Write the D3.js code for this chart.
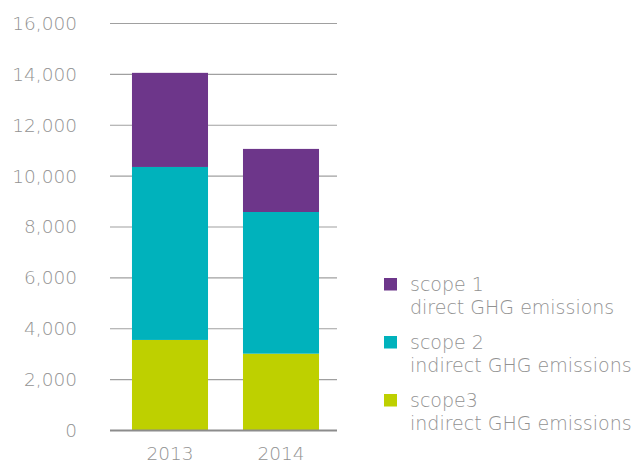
<!DOCTYPE html>
<html>
<head>
<meta charset="utf-8">
<script src="https://cdn.jsdelivr.net/npm/d3@7"></script>
<style>
  body { margin: 0; background: #fff; }
  text { font-family: "DejaVu Sans", sans-serif; font-weight: 200; fill: #929292; }
</style>
</head>
<body>
<div id="chart"></div>
<script>
var years = ["2013", "2014"];
var scope3 = [3560, 3020];
var scope2 = [6800, 5570];
var scope1 = [3700, 2480];
var yTicks = [0, 2000, 4000, 6000, 8000, 10000, 12000, 14000, 16000];

var seriesNames = ["scope3", "scope2", "scope1"];
var colors = {scope1: "#6d368a", scope2: "#00b2bc", scope3: "#bed000"};
var legendItems = [
    {key: "scope1", line1: "scope 1", line2: "direct GHG emissions"},
    {key: "scope2", line1: "scope 2", line2: "indirect GHG emissions"},
    {key: "scope3", line1: "scope3", line2: "indirect GHG emissions"}
];

var width = 638, height = 465;
var margin = {top: 23.5, right: 301, bottom: 34.5, left: 110};
var innerW = width - margin.left - margin.right;
var innerH = height - margin.top - margin.bottom;

var svg = d3.select("#chart").append("svg")
    .attr("width", width)
    .attr("height", height);
var g = svg.append("g")
    .attr("transform", "translate(" + margin.left + "," + margin.top + ")");

// build table for stack
var table = years.map(function(y, i){
    return {year: y, scope1: scope1[i], scope2: scope2[i], scope3: scope3[i]};
});
var stacked = d3.stack().keys(seriesNames)(table);

var x = d3.scaleBand().domain(years).range([0, innerW])
    .paddingInner(0.315).paddingOuter(0.18).align(0.55);
var y = d3.scaleLinear().domain([0, 16000]).range([innerH, 0]);

// gridlines
g.selectAll(".grid")
    .data(yTicks.filter(function(d){ return d > 0; }))
    .enter().append("line")
    .attr("x1", 0).attr("x2", innerW)
    .attr("y1", function(d){ return y(d); })
    .attr("y2", function(d){ return y(d); })
    .attr("stroke", "#a0a0a0")
    .attr("stroke-width", 1.2);

// bars
g.selectAll(".series")
    .data(stacked)
    .enter().append("g")
    .attr("fill", function(d){ return colors[d.key]; })
    .selectAll("rect")
    .data(function(d){ return d; })
    .enter().append("rect")
    .attr("x", function(d){ return x(d.data.year); })
    .attr("width", x.bandwidth())
    .attr("y", function(d){ return y(d[1]); })
    .attr("height", function(d){ return y(d[0]) - y(d[1]); });

// baseline
g.append("line")
    .attr("x1", 0).attr("x2", innerW)
    .attr("y1", y(0)).attr("y2", y(0))
    .attr("stroke", "#8c8c8c")
    .attr("stroke-width", 2);

// y axis labels
var yAxis = d3.axisLeft(y).tickValues(yTicks).tickSize(0).tickPadding(33)
    .tickFormat(d3.format(","));
g.append("g").call(yAxis)
    .call(function(a){ a.select(".domain").remove(); })
    .selectAll("text")
    .style("font-size", "18.5px")
    .style("font-family", "'DejaVu Sans', sans-serif")
    .attr("fill", "#929292");

// x axis labels
var xAxis = d3.axisBottom(x).tickSize(0).tickPadding(16);
g.append("g").attr("transform", "translate(0," + innerH + ")").call(xAxis)
    .call(function(a){ a.select(".domain").remove(); })
    .selectAll("text")
    .style("font-size", "18.5px")
    .style("font-family", "'DejaVu Sans', sans-serif")
    .attr("fill", "#929292");

// legend
var legend = svg.append("g").attr("transform", "translate(384,278)");
var item = legend.selectAll(".item")
    .data(legendItems)
    .enter().append("g")
    .attr("transform", function(d, i){ return "translate(0," + (i * 58) + ")"; });
item.append("rect")
    .attr("width", 13).attr("height", 12.5)
    .attr("fill", function(d){ return colors[d.key]; });
item.append("text")
    .attr("x", 26).attr("y", 12.5)
    .style("font-size", "19px")
    .text(function(d){ return d.line1; });
item.append("text")
    .attr("x", 26).attr("y", 35.5)
    .style("font-size", "19px")
    .text(function(d){ return d.line2; });
</script>
</body>
</html>
